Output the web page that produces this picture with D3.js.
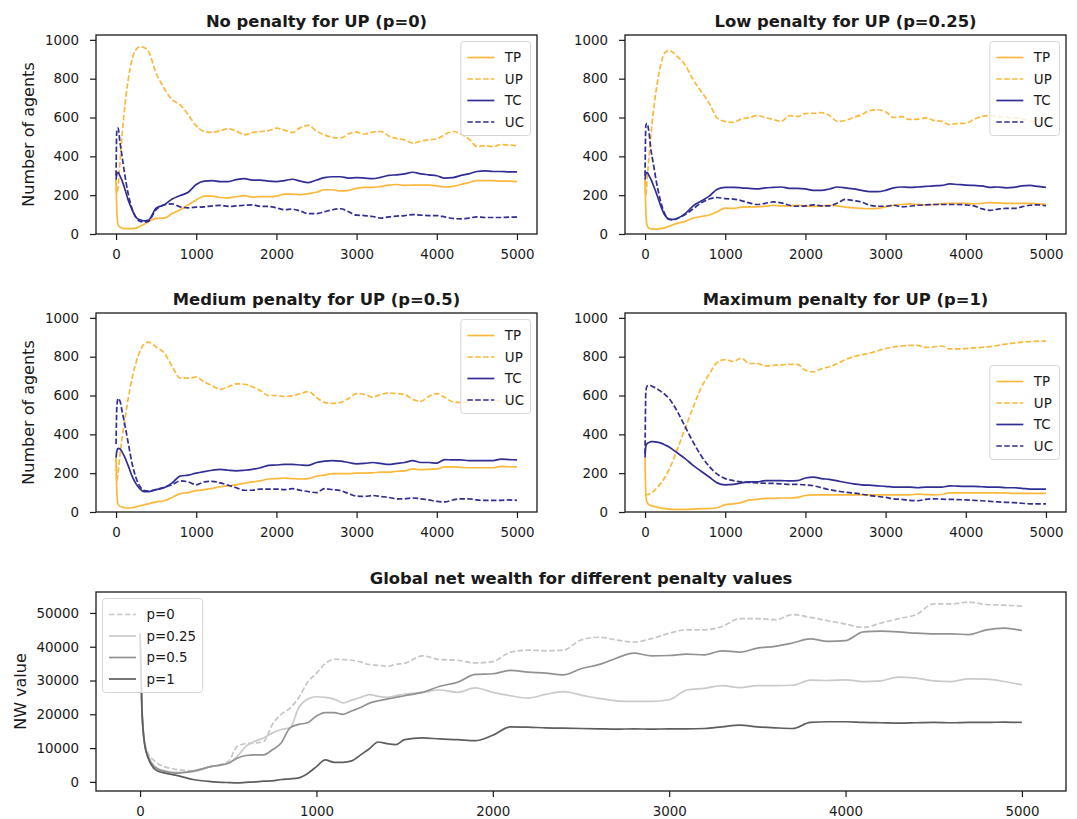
<!DOCTYPE html>
<meta charset="utf-8">
<script src="https://d3js.org/d3.v7.min.js"></script>
<style>
  body { margin: 0; background: #fff; }
  text { font-family: "DejaVu Sans", sans-serif; fill: #1a1a1a; }
</style>
<div id="chart"></div>
<script>

var width = 1077, height = 819;

// ---------------------------------------------------------------------------
// DATA - number of agents per type
// ---------------------------------------------------------------------------

let steps = [0,10,25,50,75,100,150,200,250,300,350,400,
  500,600,700,800,900,1000,1100,1200,1300,1400,
  1500,1600,1700,1800,1900,2000,2100,2200,2300,2400,
  2500,2600,2700,2800,2900,3000,3100,3200,3300,3400,
  3500,3600,3700,3800,3900,4000,4100,4200,4300,4400,
  4500,4600,4700,4800,4900,5000];

let series_names = ["TP", "UP", "TC", "UC"];

// p = 0
let tp_p0 = [280,120,50,35,30,28,28,28,30,40,50,62, 80,82,105,125,150,175,195,195,188,186,
  192,198,190,192,192,195,205,205,203,208, 215,228,228,222,225,235,240,240,245,252,
  255,250,252,252,252,248,242,245,255,265, 275,275,275,272,272,270];
let up_p0 = [280,210,240,380,510,620,790,900,950,965,960,945, 828,751,691,665,614,557,528,523,532,542,
  530,511,522,528,532,545,535,523,548,559, 530,510,498,494,515,525,515,525,528,505,
  492,485,468,478,485,490,512,528,515,490, 451,455,450,460,458,455];
let tc_p0 = [280,310,317,298,275,245,177,125,85,73,68,70, 133,150,180,198,215,255,272,275,270,270,
  280,285,278,278,272,270,275,282,272,265, 278,290,295,295,288,290,288,285,292,302,
  305,310,318,310,305,300,288,290,302,310, 322,325,322,322,320,320];
let uc_p0 = [300,540,545,470,400,330,210,130,85,65,62,65, 125,150,155,140,135,138,140,145,147,142,
  145,148,150,142,142,135,125,128,118,105, 105,115,125,130,115,97,95,90,82,88,
  92,95,100,97,95,95,88,80,78,82, 88,85,85,85,87,87];

// p = 0.25
let tp_p025 = [280,120,45,30,27,25,25,28,33,40,48,55, 65,82,90,98,115,133,132,138,140,140,
  143,148,145,145,148,145,142,145,148,145, 138,135,132,130,132,140,148,152,155,152,
  150,152,155,158,158,158,155,158,162,160, 158,158,158,158,155,152];
let up_p025 = [280,200,280,400,520,620,770,880,935,945,935,915, 871,794,734,674,597,580,575,592,600,610,
  600,590,580,610,605,620,622,625,610,580, 585,600,615,635,640,630,600,605,590,592,
  598,585,580,563,570,570,590,605,610,605, 600,598,595,580,590,600];
let tc_p025 = [280,310,318,300,280,255,200,140,95,77,75,80, 105,145,170,195,230,240,240,238,235,232,
  238,240,242,235,235,232,225,225,232,242, 238,232,225,218,218,225,238,242,240,242,
  245,248,250,258,255,252,250,248,240,242, 238,240,248,250,245,240];
let uc_p025 = [300,560,570,520,430,370,250,160,100,75,73,80, 100,130,160,180,188,182,180,172,160,152,
  158,165,160,148,143,145,150,145,145,160, 178,172,165,148,143,143,148,140,143,148,
  150,152,152,152,152,150,145,130,122,128, 132,132,140,148,150,145];

// p = 0.5
let tp_p05 = [280,100,40,30,25,22,20,22,27,32,37,42, 52,58,75,95,100,110,115,122,130,135,
  140,148,155,160,170,172,175,172,170,172, 185,190,198,198,198,200,200,202,205,205,
  210,212,222,218,220,222,232,232,230,228, 228,228,228,235,233,232];
let up_p05 = [280,160,200,300,380,450,580,690,770,830,865,875, 850,820,750,690,690,695,670,650,632,645,
  660,658,645,625,600,600,595,598,610,620, 590,565,560,565,585,610,605,592,605,612,
  610,605,580,570,595,610,590,568,565,570, 575,578,578,570,570,570];
let tc_p05 = [280,315,328,325,310,290,240,185,145,118,105,105, 115,125,150,185,190,200,208,215,220,215,
  212,215,220,228,240,242,245,245,242,240, 255,262,265,262,255,248,250,255,250,245,
  250,255,265,255,255,252,270,268,268,265, 265,265,265,272,270,268];
let uc_p05 = [350,540,585,570,520,470,360,250,175,130,110,108, 115,128,140,160,155,140,155,158,150,138,
  125,112,112,118,118,118,115,120,112,105, 100,120,115,110,95,82,80,85,80,75,
  68,68,72,68,62,55,52,62,68,68, 62,60,60,60,62,60];

// p = 1
let tp_p1 = [280,90,50,38,33,30,25,20,17,15,14,14, 14,15,17,18,22,38,42,48,62,65,
  70,70,72,72,75,85,88,88,88,88, 88,88,88,88,88,88,88,88,88,92,
  90,88,90,98,98,98,98,98,98,98, 98,96,96,96,96,96];
let up_p1 = [90,88,90,92,98,105,125,150,180,220,265,320, 430,540,640,710,770,785,775,792,765,765,
  752,755,758,760,760,730,722,738,748,765, 785,800,810,818,830,842,850,855,858,858,
  848,850,855,840,840,842,845,848,852,858, 865,870,875,878,880,880];
let tc_p1 = [280,340,352,358,362,362,360,355,345,335,320,305, 275,240,210,180,150,140,142,150,155,155,
  162,162,162,160,162,175,180,172,168,160, 152,145,140,138,135,132,128,128,128,125,
  128,128,128,135,133,132,132,130,128,128, 125,125,122,118,118,118];
let uc_p1 = [300,620,648,652,650,645,635,620,605,585,555,520, 440,360,290,235,195,172,162,155,152,150,
  148,147,145,142,142,140,135,125,115,108, 102,98,92,85,80,75,68,65,60,58,
  65,68,66,65,64,62,60,58,55,52, 50,48,45,42,42,42];

// ---------------------------------------------------------------------------
// DATA - global net wealth
// ---------------------------------------------------------------------------

let nw_steps = [0,10,25,50,75,100,150,200,300,400,
  500,550,600,650,700,750,800,850,900,950,
  1000,1050,1100,1150,1200,1250,1300,1350,1400,1450,1500,
  1600,1700,1800,1900,2000,2100,2200,2300,2400,
  2500,2600,2700,2800,2900,3000,3100,3200,3300,3400,
  3500,3600,3700,3800,3900,4000,4100,4200,4300,4400,
  4500,4600,4700,4800,4900,5000];

let nw_names = ["p=0", "p=0.25", "p=0.5", "p=1"];

let nw_p0 = [44000,22000,12000,8000,6500,5400,4300,3700,3300,4500,
  6000,10500,11300,11500,11900,17000,20000,21800,25000,29500,
  32200,35000,36300,36200,36000,35500,34700,34500,34200,34800,35100,
  37300,36200,36000,35200,35600,38400,39000,38800,39000,
  42000,42800,42000,41400,42400,44000,45000,45000,46000,48300,
  48300,48000,49500,48700,47700,46700,45700,47000,48300,49500,
  52700,52700,53200,52500,52300,52000];
let nw_p025 = [44000,22000,11500,7000,5000,4000,3200,2800,3000,4500,
  5500,7500,10500,12000,13000,14500,15500,16000,22000,24500,
  25200,25000,24500,23400,24200,25000,25800,25300,25000,25500,26000,
  26500,27200,26500,27800,26500,25500,24800,25900,26700,
  25700,24700,24000,23800,23800,24300,27200,27700,28500,27900,
  28500,28500,28600,30100,30000,30200,29700,29900,31000,30700,
  29900,29700,30500,30400,29700,28700];
let nw_p05 = [44000,22000,11500,7000,4800,3800,3000,2600,3200,4500,
  5500,7000,7800,8000,8000,9500,11500,16000,17000,17500,
  19500,20500,20500,20000,21000,22000,23300,24000,24500,25000,25500,
  26500,28300,29500,31800,32000,33000,32500,32200,31700,
  33500,34700,36600,38100,37300,37400,37800,37600,38800,38400,
  39600,40100,41100,42300,41600,41800,44400,44600,44400,44000,
  43800,43800,43600,45000,45500,44800];
let nw_p1 = [44000,22000,11500,6500,4200,3200,2500,2000,700,100,
  -200,-300,-150,0,200,300,700,900,1200,2500,
  4500,6500,5800,5800,6200,8000,9800,11800,11300,11000,12500,
  13000,12700,12500,12200,13800,16300,16200,16000,15900,
  15800,15700,15600,15700,15600,15700,15700,15800,16300,16800,
  16300,16000,15800,17600,17800,17800,17600,17500,17400,17500,
  17600,17500,17600,17600,17700,17600];

let x_ticks = [0, 1000, 2000, 3000, 4000, 5000];
let agent_ticks = [0, 200, 400, 600, 800, 1000];
let nw_ticks = [0, 10000, 20000, 30000, 40000, 50000];

// ---------------------------------------------------------------------------

let cr = {
  orange: "rgb(252,184,58)",
  navy: "rgb(48,46,148)"
};

let agent_style = [
  {cor: cr.orange, dash: null},
  {cor: cr.orange, dash: "5.5,2.4"},
  {cor: cr.navy, dash: null},
  {cor: cr.navy, dash: "5.5,2.4"}
];

let nw_style = [
  {cor: "#c6c6c6", dash: "5.5,2.4"},
  {cor: "#cacaca", dash: null},
  {cor: "#929292", dash: null},
  {cor: "#5e5e5e", dash: null}
];

let fs = { tick: "13.4px", label: "16px", title: "16.4px", legend: "13.4px" };

var svg = d3.select("#chart")
  .append("svg")
  .attr("width", width)
  .attr("height", height);

svg.append("rect").attr("width", width).attr("height", height).attr("fill", "#fff");

// desenha um painel: eixos, linhas, legenda
function panel(box, o) {
  var g = svg.append("g");

  var x = d3.scaleLinear().domain([-250, 5250]).range([box.left, box.right]);
  var y = d3.scaleLinear().domain(o.ydom).range([box.bottom, box.top]);

  // linhas
  var line = d3.line()
    .x(function(d) { return x(d[0]); })
    .y(function(d) { return y(d[1]); })
    .curve(d3.curveMonotoneX);

  o.series.forEach(function(s, i) {
    g.append("path")
      .datum(o.steps.map(function(t, k) { return [t, s[k]]; }))
      .attr("d", line)
      .attr("fill", "none")
      .attr("stroke", o.style[i].cor)
      .attr("stroke-width", 1.7)
      .attr("stroke-dasharray", o.style[i].dash)
      .attr("stroke-linejoin", "round");
  });

  // eixo x
  var xa = g.append("g").attr("transform", "translate(0," + box.bottom + ")")
    .call(d3.axisBottom(x).tickValues(x_ticks).tickSize(6).tickPadding(9.5).tickFormat(d3.format("d")));
  // eixo y
  var ya = g.append("g").attr("transform", "translate(" + box.left + ",0)")
    .call(d3.axisLeft(y).tickValues(o.yticks).tickSize(6).tickPadding(11).tickFormat(d3.format("d")));

  [xa, ya].forEach(function(a) {
    a.select(".domain").remove();
    a.selectAll(".tick line").attr("stroke", "#1a1a1a").attr("stroke-width", 1.2);
    a.selectAll(".tick text").style("font-size", fs.tick).attr("fill", "#1a1a1a");
  });

  // moldura
  g.append("rect")
    .attr("x", box.left).attr("y", box.top)
    .attr("width", box.right - box.left).attr("height", box.bottom - box.top)
    .attr("fill", "none").attr("stroke", "#1a1a1a").attr("stroke-width", 1.3);

  // título
  g.append("text")
    .text(o.title)
    .attr("x", (box.left + box.right) / 2)
    .attr("y", box.top - 8)
    .attr("text-anchor", "middle")
    .style("font-size", fs.title)
    .style("font-weight", "bold");

  if (o.ylabel) {
    g.append("text")
      .text(o.ylabel)
      .attr("transform", "translate(" + o.ylabelX + "," + ((box.top + box.bottom) / 2) + ") rotate(-90)")
      .attr("text-anchor", "middle")
      .style("font-size", fs.label);
  }

  // legenda
  var lg = g.append("g");
  var bg = lg.append("rect");
  var rowH = 21.5, pad = 5.5, hl = 27, htp = 10.5;
  var texts = o.names.map(function(n, i) {
    lg.append("line")
      .attr("x1", pad + 1).attr("x2", pad + 1 + hl)
      .attr("y1", pad + rowH * i + 10.5).attr("y2", pad + rowH * i + 10.5)
      .attr("stroke", o.style[i].cor)
      .attr("stroke-width", 1.7)
      .attr("stroke-dasharray", o.style[i].dash);
    return lg.append("text")
      .text(n)
      .attr("x", pad + 1 + hl + htp)
      .attr("y", pad + rowH * i + 15.3)
      .style("font-size", fs.legend);
  });
  var tw = d3.max(texts, function(t) { return t.node().getComputedTextLength(); });
  var bw = pad + 1 + hl + htp + tw + pad + 1;
  var bh = pad * 2 + rowH * o.names.length - 3;
  bg.attr("width", bw).attr("height", bh).attr("rx", 3)
    .attr("fill", "#fff").attr("fill-opacity", 0.8)
    .attr("stroke", "#d6d6d6").attr("stroke-width", 1);

  var lx, ly;
  if (o.legend == "upper right") { lx = box.right - 6.5 - bw; ly = box.top + 6.5; }
  if (o.legend == "center right") { lx = box.right - 6.5 - bw; ly = (box.top + box.bottom) / 2 - bh / 2; }
  if (o.legend == "upper left") { lx = box.left + 6.5; ly = box.top + 6.5; }
  lg.attr("transform", "translate(" + lx + "," + ly + ")");
}

var agents_common = {
  steps: steps, ydom: [0, 1025], yticks: agent_ticks,
  names: series_names, style: agent_style
};

panel({left: 96, right: 537, top: 35, bottom: 234}, Object.assign({}, agents_common, {
  title: "No penalty for UP (p=0)", series: [tp_p0, up_p0, tc_p0, uc_p0],
  ylabel: "Number of agents", ylabelX: 34, legend: "upper right"
}));

panel({left: 625, right: 1066, top: 35, bottom: 234}, Object.assign({}, agents_common, {
  title: "Low penalty for UP (p=0.25)", series: [tp_p025, up_p025, tc_p025, uc_p025],
  legend: "upper right"
}));

panel({left: 96, right: 537, top: 313, bottom: 512}, Object.assign({}, agents_common, {
  title: "Medium penalty for UP (p=0.5)", series: [tp_p05, up_p05, tc_p05, uc_p05],
  ylabel: "Number of agents", ylabelX: 34, legend: "upper right"
}));

panel({left: 625, right: 1066, top: 313, bottom: 512}, Object.assign({}, agents_common, {
  title: "Maximum penalty for UP (p=1)", series: [tp_p1, up_p1, tc_p1, uc_p1],
  legend: "center right"
}));

panel({left: 96, right: 1066, top: 592, bottom: 791}, {
  steps: nw_steps, ydom: [-2700, 56200], yticks: nw_ticks,
  names: nw_names, style: nw_style,
  title: "Global net wealth for different penalty values",
  series: [nw_p0, nw_p025, nw_p05, nw_p1],
  ylabel: "NW value", ylabelX: 26, legend: "upper left"
});

</script>
